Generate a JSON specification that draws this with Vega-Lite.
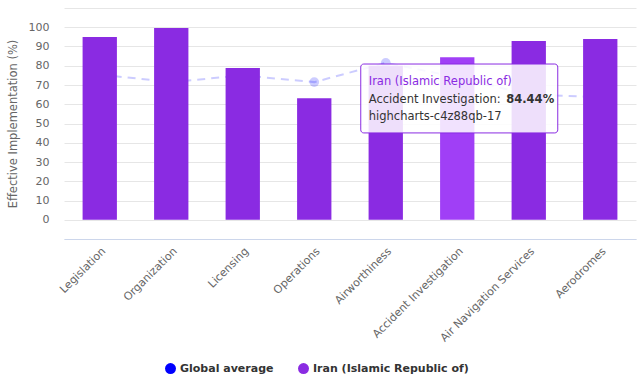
{
  "$schema": "https://vega.github.io/schema/vega-lite/v6.json",
  "width": 572,
  "height": 231,
  "autosize": "none",
  "padding": {"left": 64, "top": 8, "right": 6, "bottom": 139},
  "background": "#ffffff",
  "config": {
    "view": {"stroke": null},
    "font": "DejaVu Sans",
    "axis": {"labelColor": "#666666", "titleColor": "#666666", "labelFontSize": 11, "titleFontSize": 11.5, "titleFontWeight": "normal"},
    "axisY": {"labelOverlap": false}
  },
  "data": {
    "values": [
      {"category": "Legislation", "iran": 94.9, "global": 75.4},
      {"category": "Organization", "iran": 99.6, "global": 71.5},
      {"category": "Licensing", "iran": 78.8, "global": 75.0},
      {"category": "Operations", "iran": 63.1, "global": 71.5},
      {"category": "Airworthiness", "iran": 80.0, "global": 81.5},
      {"category": "Accident Investigation", "iran": 84.44, "global": 74.0},
      {"category": "Air Navigation Services", "iran": 92.9, "global": 65.0},
      {"category": "Aerodromes", "iran": 93.9, "global": 63.7}
    ]
  },
  "encoding": {
    "x": {
      "field": "category", "type": "nominal", "sort": null,
      "scale": {"paddingInner": 0.52, "paddingOuter": 0.26},
      "axis": {"title": null, "labelAngle": -45, "ticks": false, "domainColor": "#ccd6eb", "labelPadding": 6, "grid": false}
    }
  },
  "layer": [
    {
      "mark": {"type": "line", "strokeDash": [8, 6], "strokeWidth": 2, "opacity": 0.2},
      "encoding": {
        "y": {"field": "global", "type": "quantitative",
          "scale": {"domain": [-10, 110], "nice": false, "zero": false},
          "axis": {"title": "Effective Implementation (%)", "values": [-10, 0, 10, 20, 30, 40, 50, 60, 70, 80, 90, 100, 110], "tickCount": 30,
            "labelExpr": "datum.value < 0 || datum.value > 100 ? '' : datum.label", "labelOverlap": false,
            "domain": false, "ticks": false, "gridColor": "#e6e6e6", "labelPadding": 15, "titlePadding": 10}},
        "color": {"datum": "Global average", "type": "nominal",
          "scale": {"domain": ["Global average", "Iran (Islamic Republic of)"], "range": ["#0000ff", "#8a2be2"]},
          "legend": {"title": null, "orient": "none", "legendX": 101, "legendY": 355, "direction": "horizontal", "symbolType": "circle", "symbolSize": 120,
            "labelFontSize": 11, "labelFontWeight": "bold", "labelColor": "#333333", "columnPadding": 24,
            "labelLimit": 400, "symbolOpacity": 1, "symbolStrokeWidth": 0,
            "encode": {"symbols": {"update": {"fill": {"scale": "color", "field": "value"}, "opacity": {"value": 1}}}}}}
      }
    },
    {
      "mark": {"type": "point", "filled": true, "size": 95, "opacity": 0.2, "color": "#0000ff"},
      "encoding": {"y": {"field": "global", "type": "quantitative"}}
    },
    {
      "mark": {"type": "bar"},
      "encoding": {
        "y": {"field": "iran", "type": "quantitative"},
        "color": {"condition": {"test": "datum.category === 'Accident Investigation'", "value": "#a03ff6"}, "datum": "Iran (Islamic Republic of)", "type": "nominal"}
      }
    },
    {
      "data": {"values": [{}]},
      "mark": {"type": "bar", "width": 197, "xOffset": 2, "fill": "#ffffff", "fillOpacity": 0.85, "stroke": "#8a2be2", "strokeWidth": 1, "cornerRadius": 3},
      "encoding": {
        "x": {"datum": "Accident Investigation", "type": "nominal"},
        "y": {"datum": 80.9, "type": "quantitative"},
        "y2": {"datum": 45.1}
      }
    },
    {
      "data": {"values": [{}]},
      "mark": {"type": "text", "text": "Iran (Islamic Republic of)", "align": "left", "dx": -88.5, "fontSize": 11.5, "color": "#8a2be2", "baseline": "alphabetic"},
      "encoding": {"x": {"datum": "Accident Investigation", "type": "nominal"}, "y": {"datum": 70.0, "type": "quantitative"}}
    },
    {
      "data": {"values": [{}]},
      "mark": {"type": "text", "text": "Accident Investigation:", "align": "left", "dx": -88.5, "fontSize": 11.5, "color": "#333333", "baseline": "alphabetic"},
      "encoding": {"x": {"datum": "Accident Investigation", "type": "nominal"}, "y": {"datum": 60.6, "type": "quantitative"}}
    },
    {
      "data": {"values": [{}]},
      "mark": {"type": "text", "text": "84.44%", "align": "left", "dx": 49, "fontSize": 11.5, "fontWeight": "bold", "color": "#333333", "baseline": "alphabetic"},
      "encoding": {"x": {"datum": "Accident Investigation", "type": "nominal"}, "y": {"datum": 60.6, "type": "quantitative"}}
    },
    {
      "data": {"values": [{}]},
      "mark": {"type": "text", "text": "highcharts-c4z88qb-17", "align": "left", "dx": -88.5, "fontSize": 11.5, "color": "#333333", "baseline": "alphabetic"},
      "encoding": {"x": {"datum": "Accident Investigation", "type": "nominal"}, "y": {"datum": 51.8, "type": "quantitative"}}
    }
  ]
}
